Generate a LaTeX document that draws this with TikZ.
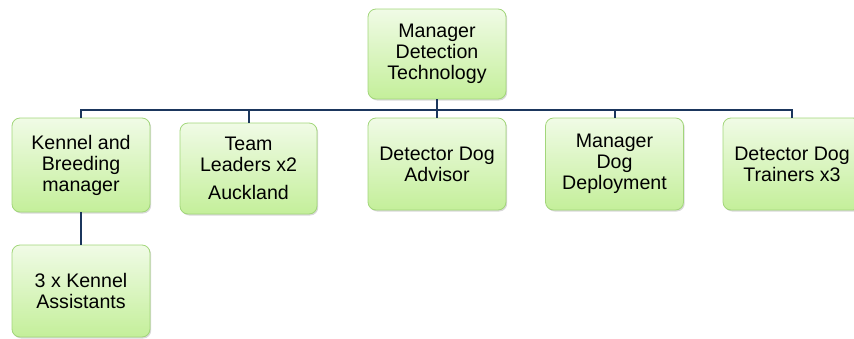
\documentclass[tikz,border=0pt]{standalone}
\usepackage{fontspec}
\setmainfont{Liberation Sans}
\usetikzlibrary{shadows}
\definecolor{boxtop}{HTML}{F0FBE6}
\definecolor{boxbot}{HTML}{C4EF9A}
\definecolor{boxline}{HTML}{A2D67A}
\definecolor{conn}{HTML}{1B365D}
\begin{document}
\begin{tikzpicture}[x=1pt,y=-1pt,
  orgbox/.style={draw=boxline, line width=0.8pt, rounded corners=8pt,
    top color=boxtop, bottom color=boxbot, align=center,
    font=\fontsize{19.6}{21}\selectfont, inner sep=0pt,
    drop shadow={shadow xshift=1.2pt, shadow yshift=-1.5pt, opacity=0.25, fill=black!60}},
  link/.style={draw=conn, line width=2pt}]
\useasboundingbox (0,0) rectangle (854,338);
\node[orgbox, minimum width=138pt, minimum height=90pt] (top) at (437,54) {Manager\\Detection\\Technology};
\node[orgbox, minimum width=138pt, minimum height=94pt] (kennel) at (81,165) {Kennel and\\Breeding\\manager};
\node[orgbox, minimum width=137pt, minimum height=91pt] (team) at (248.5,168.5) {Team\\Leaders x2\\[7pt]Auckland};
\node[orgbox, minimum width=138pt, minimum height=92pt] (advisor) at (437,164) {Detector Dog\\Advisor};
\node[orgbox, minimum width=138pt, minimum height=92pt] (deploy) at (614.5,164) {Manager\\Dog\\Deployment};
\node[orgbox, minimum width=138pt, minimum height=92pt] (trainers) at (792,164) {Detector Dog\\Trainers x3};
\node[orgbox, minimum width=138pt, minimum height=92pt] (assist) at (81,291) {3 x Kennel\\Assistants};
\coordinate (bar) at (437,110);
\draw[link] (top.south) -- (bar);
\draw[link] (bar) -| (kennel.north);
\draw[link] (bar) -| (team.north);
\draw[link] (bar) -- (advisor.north);
\draw[link] (bar) -| (deploy.north);
\draw[link] (bar) -| (trainers.north);
\draw[link] (kennel.south) -- (assist.north);
\end{tikzpicture}
\end{document}
